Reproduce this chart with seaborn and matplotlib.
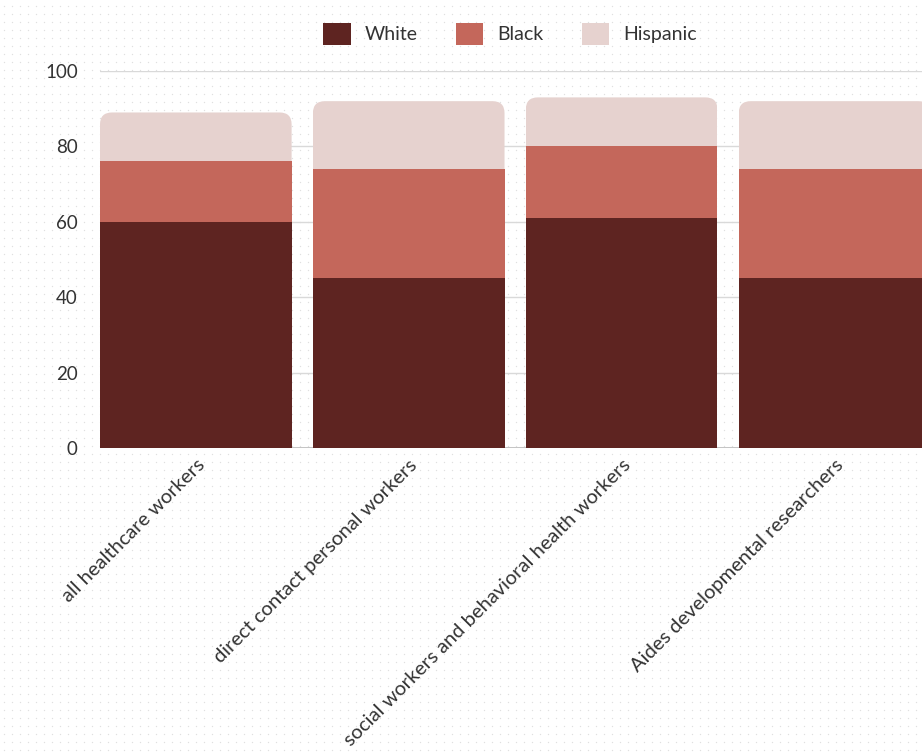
import numpy as np
import pandas as pd
import matplotlib
matplotlib.use("Agg")
import matplotlib.pyplot as plt
import seaborn as sns
from matplotlib.patches import FancyBboxPatch, Patch

categories = ["all healthcare workers", "direct contact personal workers",
              "social workers and behavioral health workers", "Aides developmental researchers"]
white = [60, 45, 61, 45]
black = [16, 29, 19, 29]
hispanic = [13, 18, 13, 18]
series_names = ["White", "Black", "Hispanic"]
colors = {"White": "#5E2421", "Black": "#C4675B", "Hispanic": "#E6D2CF"}
yticks = [0, 20, 40, 60, 80, 100]

sns.set_theme(style="white")
plt.rcParams["font.family"] = ["Lato", "DejaVu Sans"]

df = pd.DataFrame({"category": categories, "White": white, "Black": black, "Hispanic": hispanic})
df["cum_black"] = df["White"] + df["Black"]
df["cum_total"] = df["cum_black"] + df["Hispanic"]

W, H = 922, 754
fig = plt.figure(figsize=(W / 100, H / 100), dpi=100)
fig.patch.set_facecolor("white")

# dotted background
bg = fig.add_axes([0, 0, 1, 1], zorder=-10)
bg.set_xlim(0, W)
bg.set_ylim(0, H)
bg.axis("off")
gx, gy = np.meshgrid(np.arange(4, W, 8), np.arange(4, H, 8))
bg.scatter(gx.ravel(), gy.ravel(), s=1.0, color="#e0e0e0", linewidths=0)

left_px, right_px = 100, 941
bot_px, top_px = 448, 71
ax = fig.add_axes([left_px / W, (H - bot_px) / H, (right_px - left_px) / W, (bot_px - top_px) / H])
ax.set_facecolor("none")

sns.barplot(data=df, x="category", y="cum_total", color=colors["Hispanic"], width=0.9,
            saturation=1, ax=ax, order=categories, linewidth=0)
sns.barplot(data=df, x="category", y="cum_black", color=colors["Black"], width=0.9,
            saturation=1, ax=ax, order=categories, linewidth=0)
sns.barplot(data=df, x="category", y="White", color=colors["White"], width=0.9,
            saturation=1, ax=ax, order=categories, linewidth=0)

ax.set_xlim(-0.45, 3.5)
ax.set_ylim(0, 100)
ax.set_yticks(yticks)
ax.set_xlabel("")
ax.set_ylabel("")
for s in ax.spines.values():
    s.set_visible(False)
ax.set_axisbelow(True)
ax.yaxis.grid(True, color="#d9d9d9", linewidth=1)
ax.axhline(0, color="#b5b5b5", linewidth=1.2, zorder=0.5)
ax.tick_params(axis="y", length=0, pad=16, labelsize=13.5, labelcolor="#333333")
ax.tick_params(axis="x", length=0, pad=6, labelsize=14.5, labelcolor="#333333")
for lab in ax.get_xticklabels():
    lab.set_rotation(45)
    lab.set_ha("right")
    lab.set_va("top")
    lab.set_rotation_mode("anchor")

# rounded top corners on the full stacks
px_per_x = (right_px - left_px) / (3.5 + 0.45)
px_per_y = (bot_px - top_px) / 100
radius_px = 12
r = radius_px / px_per_x
ma = px_per_x / px_per_y
for p in ax.patches[:4]:
    x0, w, h = p.get_x(), p.get_width(), p.get_height()
    clip = FancyBboxPatch((x0, -30), w, h + 30, boxstyle=f"round,pad=0,rounding_size={r}",
                          mutation_aspect=ma, transform=ax.transData, facecolor="none", edgecolor="none")
    p.set_clip_path(clip)

handles = [Patch(facecolor=colors[n], edgecolor="none") for n in series_names]
fig.legend(handles, series_names, loc="center", bbox_to_anchor=(510 / W, 1 - 34 / H), ncol=3,
           frameon=False, fontsize=14, handlelength=1.4, handleheight=1.4, columnspacing=2.0,
           handletextpad=0.7, labelcolor="#333333")

fig.savefig("out.png", dpi=100, facecolor="white")
